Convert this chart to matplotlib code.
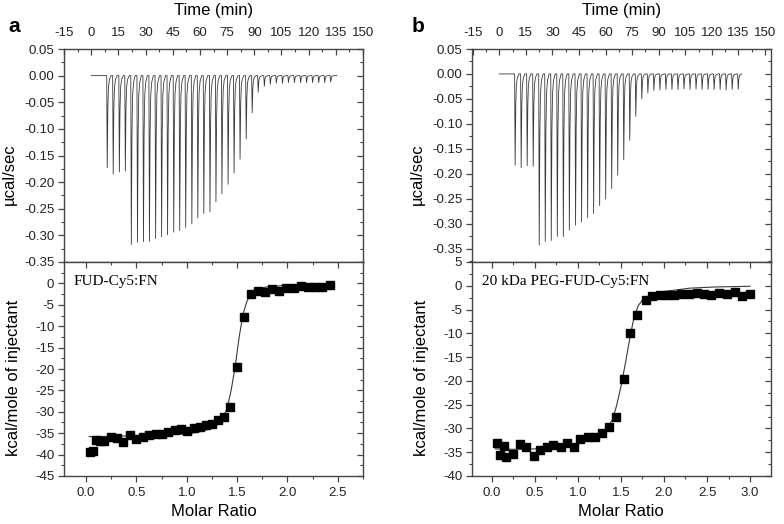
import numpy as np
import matplotlib
matplotlib.use("Agg")
import matplotlib.pyplot as plt
import matplotlib.markers as mmarkers
from matplotlib.ticker import MultipleLocator, AutoMinorLocator

plt.rcParams['font.family'] = ['Liberation Sans', 'DejaVu Sans']
plt.rcParams['axes.unicode_minus'] = False

# ---------------- data: panel a ----------------
a_inj_time = [8.6, 11.9, 15.3, 18.6, 21.9, 25.3, 28.6, 31.9, 35.3, 38.6,
              41.9, 45.3, 48.6, 51.9, 55.3, 58.6, 61.9, 65.3, 68.6, 71.9,
              75.3, 78.6, 81.9, 85.3, 88.6, 91.9, 95.3, 98.6, 101.9, 105.3,
              108.6, 111.9, 115.3, 118.6, 121.9, 125.3, 128.6, 131.9]
a_inj_depth = [-0.173, -0.185, -0.181, -0.179, -0.317, -0.313, -0.312, -0.311, -0.306, -0.303,
               -0.299, -0.294, -0.291, -0.285, -0.278, -0.267, -0.259, -0.256, -0.237, -0.222,
               -0.204, -0.183, -0.157, -0.119, -0.070, -0.031, -0.020, -0.016, -0.014, -0.014,
               -0.013, -0.013, -0.013, -0.013, -0.013, -0.013, -0.013, -0.012]
a_base_start, a_base_end = 0.0, 135.5

a_ratio = [0.04, 0.07, 0.10, 0.14, 0.18, 0.25, 0.31, 0.37, 0.44, 0.50,
           0.56, 0.62, 0.69, 0.75, 0.81, 0.88, 0.94, 1.00, 1.07, 1.13,
           1.19, 1.25, 1.31, 1.37, 1.43, 1.50, 1.57, 1.64, 1.71, 1.78,
           1.85, 1.92, 1.99, 2.06, 2.13, 2.20, 2.27, 2.34, 2.42]
a_heat = [-39.3, -39.2, -36.6, -36.9, -36.8, -35.8, -36.1, -37.0, -35.5, -36.4,
          -35.8, -35.5, -35.3, -35.2, -34.8, -34.2, -34.0, -34.5, -33.8, -33.5,
          -33.2, -32.9, -31.8, -31.3, -28.9, -19.5, -7.8, -2.5, -1.7, -2.0,
          -1.4, -1.7, -1.0, -1.0, -0.7, -0.9, -0.8, -0.8, -0.4]
a_fit_x = [0.03, 0.3, 0.6, 0.9, 1.0, 1.1, 1.2, 1.3, 1.35, 1.4, 1.44, 1.48,
           1.52, 1.56, 1.6, 1.65, 1.7, 1.8, 2.0, 2.2, 2.42]
a_fit_y = [-35.8, -35.7, -35.5, -35.3, -35.2, -34.8, -34.2, -33.1, -31.8, -29.2, -25.0, -19.5,
           -12.5, -7.0, -4.0, -2.3, -1.3, -0.8, -0.4, -0.3, -0.25]

# ---------------- data: panel b ----------------
b_inj_time = [8.7, 12.1, 15.5, 18.9, 22.3, 25.7, 29.1, 32.5, 35.9, 39.3,
              42.8, 46.2, 49.6, 53.0, 56.4, 59.8, 63.2, 66.6, 70.0, 73.4,
              76.8, 80.2, 83.6, 87.0, 90.4, 93.8, 97.2, 100.6, 104.0, 107.4,
              110.8, 114.2, 117.6, 121.0, 124.4, 127.8, 131.2, 134.6]
b_inj_depth = [-0.183, -0.188, -0.184, -0.185, -0.343, -0.336, -0.334, -0.326, -0.326, -0.313,
               -0.303, -0.297, -0.288, -0.280, -0.264, -0.251, -0.230, -0.203, -0.172, -0.133,
               -0.085, -0.050, -0.038, -0.033, -0.032, -0.031, -0.031, -0.031, -0.030, -0.031,
               -0.030, -0.031, -0.031, -0.031, -0.031, -0.032, -0.031, -0.031]
b_base_start, b_base_end = 0.0, 137.0

b_ratio = [0.06, 0.10, 0.14, 0.17, 0.25, 0.33, 0.40, 0.49, 0.56, 0.64,
           0.71, 0.80, 0.87, 0.96, 1.03, 1.12, 1.20, 1.28, 1.36, 1.44,
           1.53, 1.61, 1.69, 1.79, 1.86, 1.95, 2.03, 2.12, 2.20, 2.29,
           2.38, 2.46, 2.55, 2.64, 2.73, 2.82, 2.91, 3.00]
b_heat = [-33.0, -35.6, -33.6, -36.1, -35.3, -33.3, -33.9, -35.7, -34.5, -34.0,
          -33.5, -33.8, -33.0, -33.9, -32.2, -31.9, -31.9, -30.9, -29.8, -27.5,
          -19.5, -10.0, -6.1, -2.9, -2.1, -2.0, -2.0, -1.9, -1.8, -1.8,
          -1.6, -1.75, -1.95, -1.5, -1.75, -1.4, -2.1, -1.75]
b_fit_x = [0.04, 0.3, 0.5, 0.8, 1.0, 1.2, 1.3, 1.4, 1.45, 1.5, 1.55, 1.6,
           1.65, 1.7, 1.75, 1.8, 1.9, 2.0, 2.3, 2.6, 3.0]
b_fit_y = [-34.3, -34.4, -34.3, -33.9, -33.3, -32.1, -31.0, -28.2, -25.2, -21.2, -16.5, -11.4,
           -6.8, -4.2, -3.0, -2.4, -1.7, -1.2, -0.5, -0.25, -0.1]

LINE_C = '#3a3a3a'
SPINE_C = '#454545'


def thermogram(times, depths, t0, t1):
    xs, ys = [t0], [0.0]
    for t, d in zip(times, depths):
        xs += [t - 0.05, t + 0.25, t + 0.6, t + 0.95, t + 1.5, t + 2.4]
        ys += [0.0, d, d * 0.35, d * 0.12, d * 0.04, 0.0]
    xs.append(t1)
    ys.append(0.0)
    return xs, ys


def style_axes(ax):
    for s in ax.spines.values():
        s.set_color(SPINE_C)
        s.set_linewidth(1.0)
    ax.tick_params(which='both', colors=SPINE_C, labelcolor='#222222', labelsize=9.5)
    ax.tick_params(which='major', length=4, width=0.9)
    ax.tick_params(which='minor', length=2.5, width=0.8)


def inward_second_ticks(ax, x_too):
    for tk in list(ax.yaxis.get_major_ticks()) + list(ax.yaxis.get_minor_ticks()):
        tk.tick2line.set_marker(mmarkers.TICKLEFT)
    if x_too:
        for tk in list(ax.xaxis.get_major_ticks()) + list(ax.xaxis.get_minor_ticks()):
            tk.tick2line.set_marker(mmarkers.TICKDOWN)


fig = plt.figure(figsize=(7.84, 5.24), dpi=100)
W, H = 784.0, 524.0

panels = [
    dict(x0=64, x1=363, label='a', lx=14,
         times=a_inj_time, depths=a_inj_depth, t0=a_base_start, t1=a_base_end,
         txlim=(-15, 150), tylim=(-0.35, 0.05),
         ratio=a_ratio, heat=a_heat, fx=a_fit_x, fy=a_fit_y,
         bxlim=(-0.22, 2.75), bylim=(-45, 5), bxticks=np.arange(0, 2.51, 0.5),
         byticks=np.arange(-45, 1, 5), name='FUD-Cy5:FN', name_x=74),
    dict(x0=472, x1=770.7, label='b', lx=418,
         times=b_inj_time, depths=b_inj_depth, t0=b_base_start, t1=b_base_end,
         txlim=(-15.4, 153.2), tylim=(-0.377, 0.05),
         ratio=b_ratio, heat=b_heat, fx=b_fit_x, fy=b_fit_y,
         bxlim=(-0.23, 3.24), bylim=(-40, 5), bxticks=np.arange(0, 3.01, 0.5),
         byticks=np.arange(-40, 6, 5), name='20 kDa PEG-FUD-Cy5:FN', name_x=482),
]

for p in panels:
    left = p['x0'] / W
    width = (p['x1'] - p['x0']) / W
    top_ax = fig.add_axes([left, 1 - 262 / H, width, (262 - 49) / H])
    bot_ax = fig.add_axes([left, 1 - 476 / H, width, (476 - 262) / H])

    # ---- thermogram ----
    xs, ys = thermogram(p['times'], p['depths'], p['t0'], p['t1'])
    top_ax.plot(xs, ys, color=LINE_C, lw=0.6)
    top_ax.set_xlim(*p['txlim'])
    top_ax.set_ylim(*p['tylim'])
    top_ax.xaxis.set_major_locator(MultipleLocator(15))
    top_ax.xaxis.set_minor_locator(AutoMinorLocator(2))
    top_ax.yaxis.set_major_locator(MultipleLocator(0.05))
    top_ax.yaxis.set_minor_locator(AutoMinorLocator(2))
    top_ax.yaxis.set_major_formatter(
        plt.FuncFormatter(lambda v, pos: '0.00' if abs(v) < 1e-9 else '%.2f' % v))
    style_axes(top_ax)
    top_ax.tick_params(axis='x', which='both', top=True, bottom=False,
                       labeltop=True, labelbottom=False, direction='in', pad=7)
    top_ax.tick_params(axis='y', which='both', left=True, right=True, direction='out', pad=3)
    top_ax.set_ylabel('µcal/sec', fontsize=12)
    top_ax.yaxis.set_label_coords(-0.157, 0.413)
    inward_second_ticks(top_ax, False)

    # ---- binding isotherm ----
    bot_ax.plot(p['fx'], p['fy'], color=LINE_C, lw=0.8)
    bot_ax.plot(p['ratio'], p['heat'], 's', color='black', ms=6.3, mec='black')
    bot_ax.set_xlim(*p['bxlim'])
    bot_ax.set_ylim(*p['bylim'])
    bot_ax.set_xticks(p['bxticks'])
    bot_ax.xaxis.set_major_formatter(plt.FuncFormatter(lambda v, pos: '%.1f' % v))
    bot_ax.xaxis.set_minor_locator(AutoMinorLocator(2))
    bot_ax.set_yticks(p['byticks'])
    bot_ax.yaxis.set_minor_locator(AutoMinorLocator(2))
    style_axes(bot_ax)
    bot_ax.tick_params(axis='x', which='both', bottom=True, top=True, direction='out', pad=4)
    bot_ax.tick_params(axis='y', which='both', left=True, right=True, direction='out', pad=3)
    bot_ax.set_ylabel('kcal/mole of injectant', fontsize=12)
    bot_ax.yaxis.set_label_coords(-0.145, 0.458)
    inward_second_ticks(bot_ax, True)

    # texts
    cx = (p['x0'] + p['x1']) / 2 / W
    fig.text(cx, 1 - 10 / H, 'Time (min)', ha='center', va='center', fontsize=12)
    fig.text(cx, 1 - 511 / H, 'Molar Ratio', ha='center', va='center', fontsize=12)
    fig.text(p['lx'] / W, 1 - 26 / H, p['label'], ha='center', va='center',
             fontsize=15, fontweight='bold')
    fig.text(p['name_x'] / W, 1 - 281 / H, p['name'], ha='left', va='center',
             fontsize=11, family=['Liberation Serif', 'DejaVu Serif'])

fig.savefig('out.png', dpi=100)
